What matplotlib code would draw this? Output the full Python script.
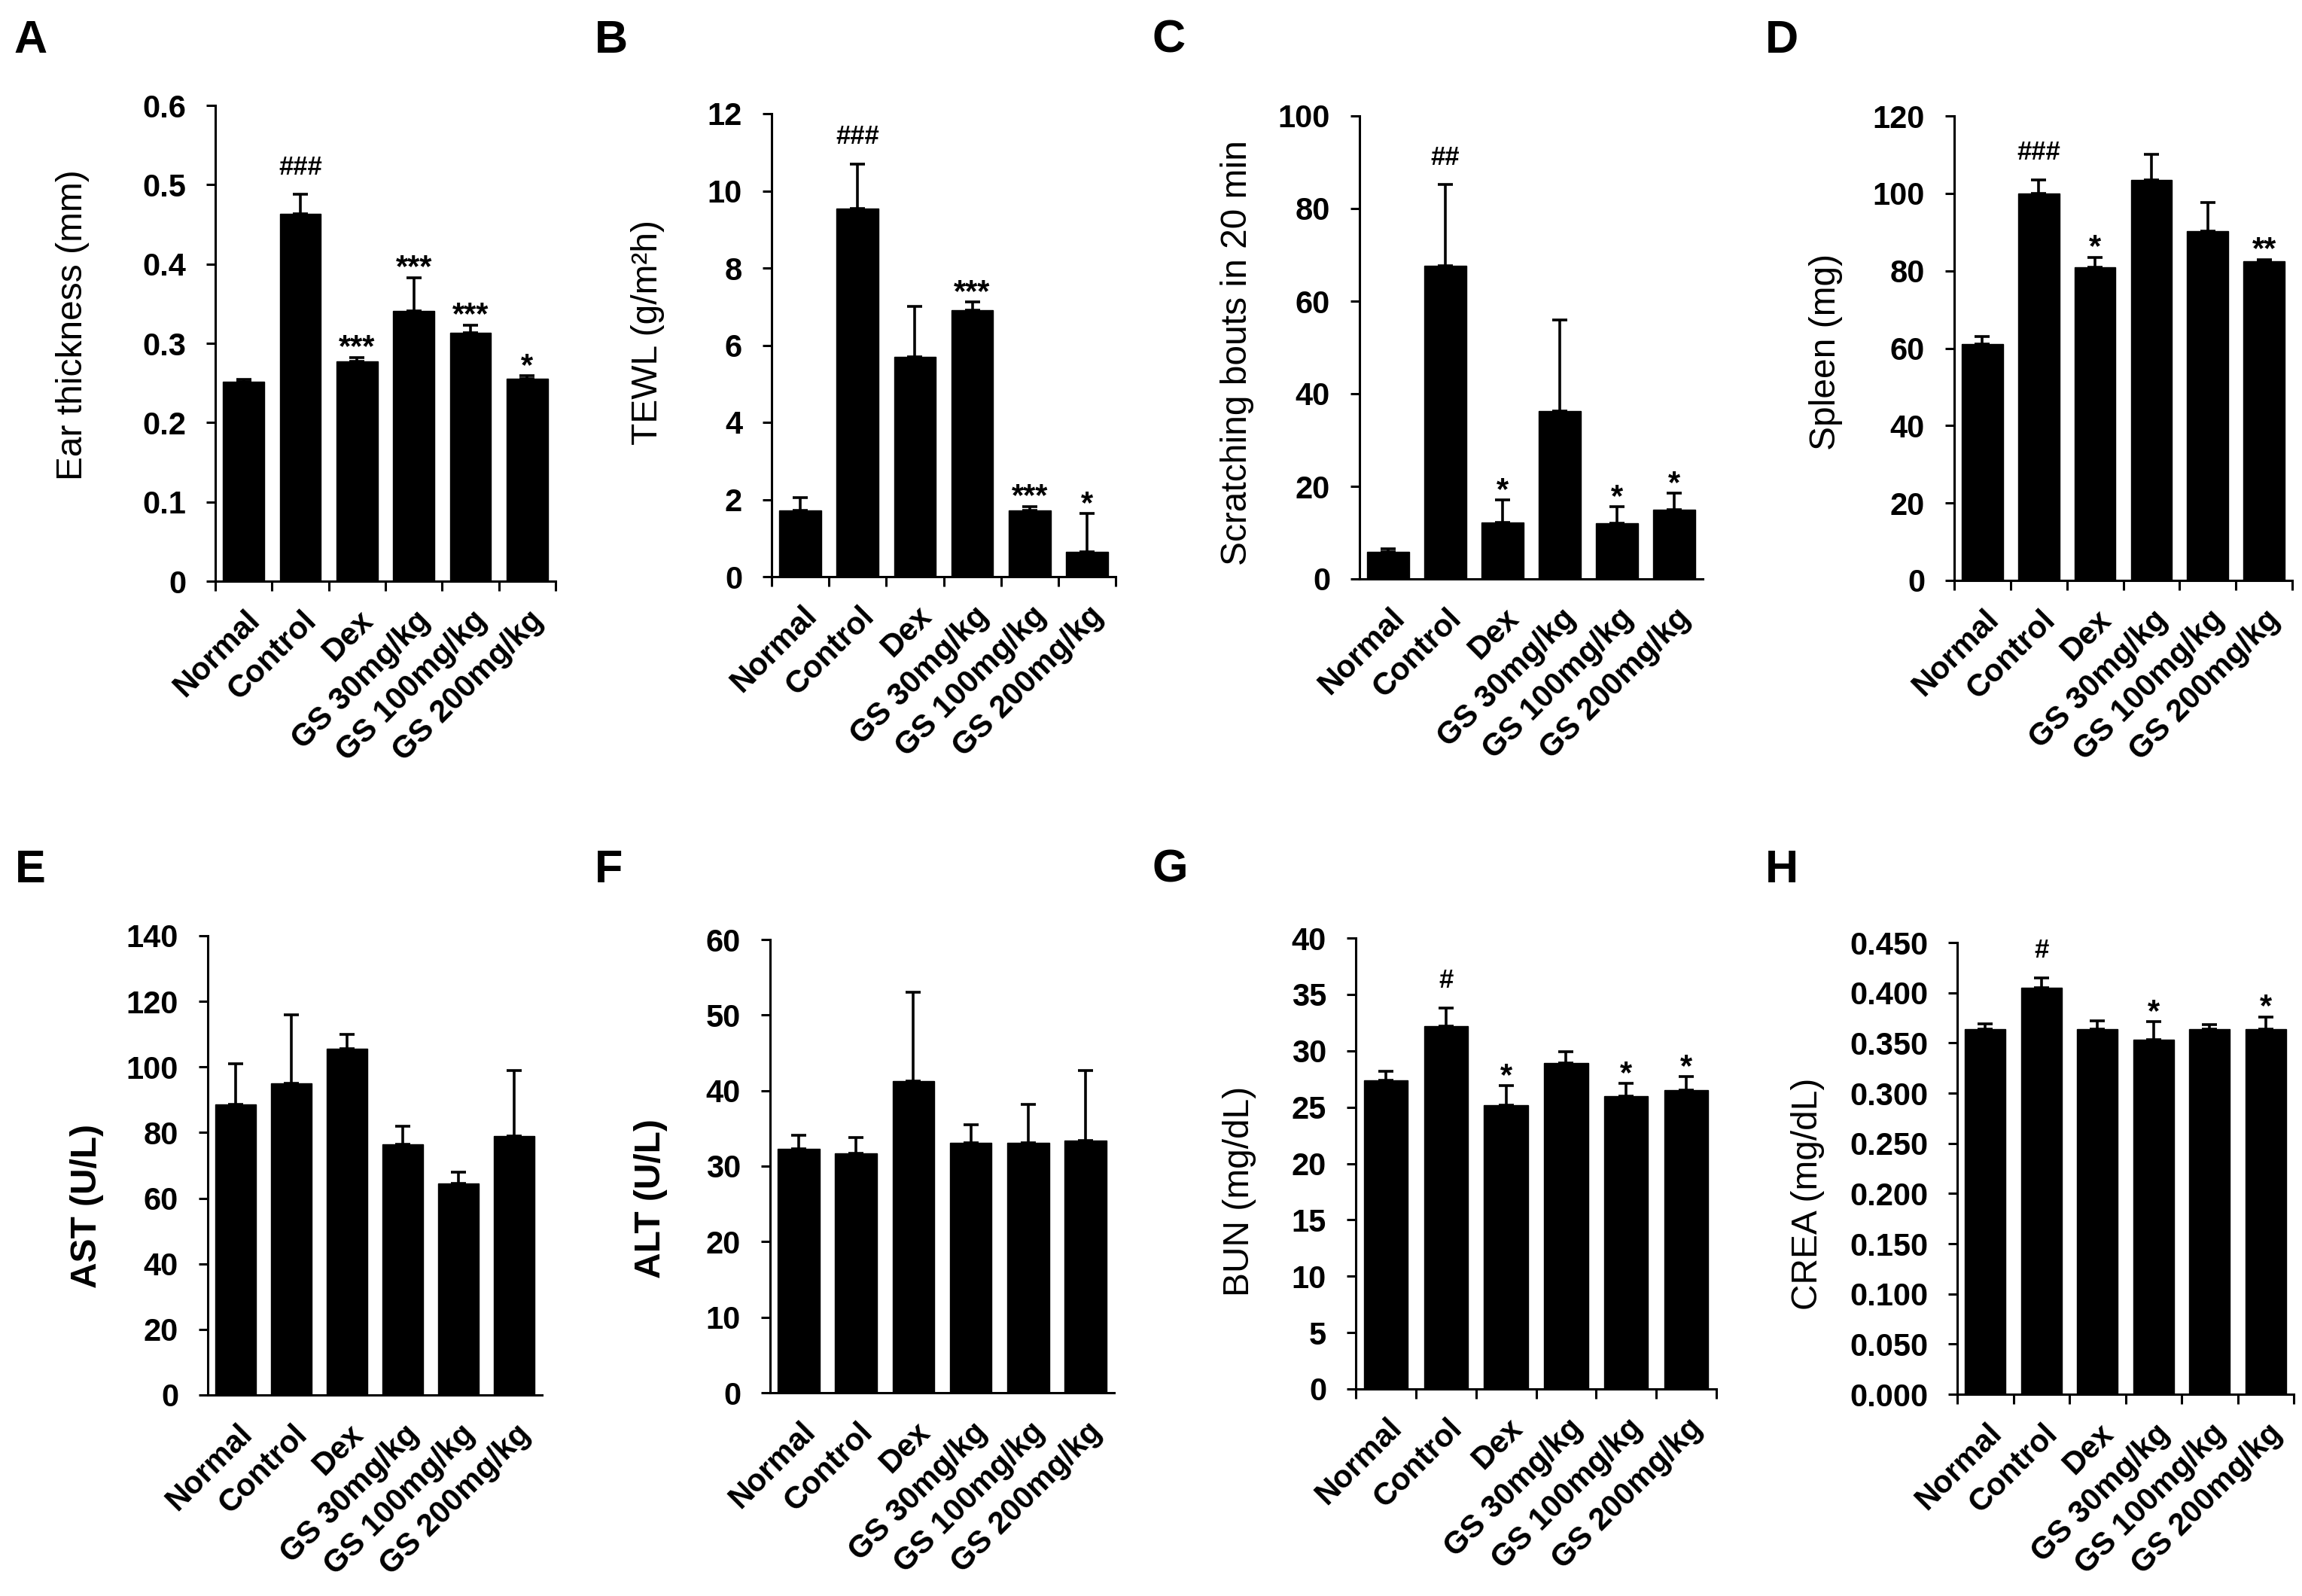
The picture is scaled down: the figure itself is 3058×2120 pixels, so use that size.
import matplotlib
matplotlib.use('Agg')
import matplotlib.pyplot as plt
import matplotlib.transforms as mtransforms
from matplotlib.ticker import FixedLocator, FuncFormatter

plt.rcParams['font.family'] = ['Liberation Sans', 'DejaVu Sans']

groups = ['Normal', 'Control', 'Dex', 'GS 30mg/kg', 'GS 100mg/kg', 'GS 200mg/kg']

# A - ear thickness
ear_mean = [0.252, 0.463, 0.277, 0.341, 0.313, 0.255]
ear_err = [0.002, 0.025, 0.005, 0.042, 0.010, 0.004]
ear_sig = ['', '###', '***', '***', '***', '*']

# B - TEWL
tewl_mean = [1.72, 9.55, 5.70, 6.90, 1.72, 0.65]
tewl_err = [0.33, 1.15, 1.30, 0.22, 0.10, 0.98]
tewl_sig = ['', '###', '', '***', '***', '*']

# C - scratching
scratch_mean = [5.8, 67.7, 12.2, 36.3, 12.0, 15.0]
scratch_err = [0.7, 17.5, 4.8, 19.6, 3.6, 3.5]
scratch_sig = ['', '##', '*', '', '*', '*']

# D - spleen
spleen_mean = [61.0, 100.0, 81.0, 103.5, 90.2, 82.5]
spleen_err = [2.0, 3.5, 2.5, 6.5, 7.5, 0.4]
spleen_sig = ['', '###', '*', '', '', '**']

# E - AST
ast_mean = [88.5, 95.0, 105.5, 76.5, 64.5, 79.0]
ast_err = [12.5, 21.0, 4.5, 5.5, 3.5, 20.0]

# F - ALT
alt_mean = [32.3, 31.7, 41.3, 33.1, 33.1, 33.4]
alt_err = [1.8, 2.1, 11.7, 2.4, 5.1, 9.3]

# G - BUN
bun_mean = [27.4, 32.2, 25.2, 28.9, 26.0, 26.5]
bun_err = [0.8, 1.6, 1.7, 1.0, 1.1, 1.2]
bun_sig = ['', '#', '*', '', '*', '*']

# H - CREA
crea_mean = [0.364, 0.405, 0.364, 0.353, 0.364, 0.364]
crea_err = [0.005, 0.010, 0.008, 0.018, 0.004, 0.012]
crea_sig = ['', '#', '', '*', '', '*']

no_sig = [''] * 6

# letter, ylabel, means, errs, sig, ymax, ystep, decimals, xticks shown, bold ylabel
panels = [
    ('A', 'Ear thickness (mm)', ear_mean, ear_err, ear_sig, 0.6, 0.1, 1, True, False),
    ('B', 'TEWL (g/m²h)', tewl_mean, tewl_err, tewl_sig, 12, 2, 0, True, False),
    ('C', 'Scratching bouts in 20 min', scratch_mean, scratch_err, scratch_sig, 100, 20, 0, False, False),
    ('D', 'Spleen (mg)', spleen_mean, spleen_err, spleen_sig, 120, 20, 0, True, False),
    ('E', 'AST (U/L)', ast_mean, ast_err, no_sig, 140, 20, 0, False, True),
    ('F', 'ALT (U/L)', alt_mean, alt_err, no_sig, 60, 10, 0, False, True),
    ('G', 'BUN (mg/dL)', bun_mean, bun_err, bun_sig, 40, 5, 0, True, False),
    ('H', 'CREA (mg/dL)', crea_mean, crea_err, crea_sig, 0.45, 0.05, 3, True, False),
]

# layout in pixels: axes box (left, top, right, bottom), ylabel x centre, ylabel y fraction, letter pos
W, H = 3058, 2120
boxes = [
    (286, 140, 738, 772), (1025, 151, 1482, 766), (1806, 154, 2262, 769), (2596, 154, 3045, 771),
    (276, 1243, 720, 1853), (1023, 1248, 1480, 1850), (1801, 1246, 2280, 1845), (2600, 1252, 3047, 1852),
]
label_x = [97, 861, 1643, 2426, 116, 865, 1647, 2402]
label_y = [0.538, 0.527, 0.489, 0.492, 0.411, 0.428, 0.438, 0.443]
letter_pos = [(18, 26), (790, 26), (1530, 26), (2345, 26), (20, 1128), (790, 1128), (1530, 1128), (2345, 1128)]

fig = plt.figure(figsize=(W / 100, H / 100), dpi=100)

lw = 2.2
elw = 2.6
xs = [i + 0.5 for i in range(len(groups))]

for p, box, lx, ly, lp in zip(panels, boxes, label_x, label_y, letter_pos):
    letter, ylabel, means, errs, sig, ymax, ystep, dec, xt, boldlab = p
    l, t, r, b = box
    ax = fig.add_axes([l / W, 1 - b / H, (r - l) / W, (b - t) / H])

    ax.bar(xs, means, width=0.73, color='black', edgecolor='black', linewidth=1, zorder=2)
    ax.errorbar(xs, means, yerr=[[0] * 6, errs], fmt='none', ecolor='black',
                elinewidth=elw, capsize=7, capthick=elw, zorder=1)

    for x, m, e, s in zip(xs, means, errs, sig):
        if not s:
            continue
        if s.startswith('#'):
            ax.annotate(s, xy=(x, m + e), xytext=(0, 19), textcoords='offset points',
                        ha='center', va='baseline', fontsize=25, fontweight='bold')
        else:
            ax.annotate(s, xy=(x, m + e), xytext=(0, 1), textcoords='offset points',
                        ha='center', va='baseline', fontsize=30, fontweight='bold')

    ax.set_xlim(0, 6)
    ax.set_ylim(0, ymax)
    n = int(round(ymax / ystep))
    yt = [k * ystep for k in range(n + 1)]
    ax.yaxis.set_major_locator(FixedLocator(yt))
    if dec == 1:
        ax.yaxis.set_major_formatter(FuncFormatter(lambda v, pos: '0' if abs(v) < 1e-9 else '%.1f' % v))
    elif dec == 3:
        ax.yaxis.set_major_formatter(FuncFormatter(lambda v, pos: '%.3f' % v))
    else:
        ax.yaxis.set_major_formatter(FuncFormatter(lambda v, pos: '%d' % round(v)))

    ax.set_xticks(xs)
    ax.set_xticklabels(groups, rotation=45, ha='right', rotation_mode='anchor',
                       fontsize=30, fontweight='bold')
    ax.tick_params(axis='x', which='major', length=0, pad=23)
    if xt:
        ax.set_xticks(range(7), minor=True)
        ax.tick_params(axis='x', which='minor', length=9, width=lw, direction='out')
    off = mtransforms.ScaledTranslation(1 / 72, 0, fig.dpi_scale_trans)
    for lab in ax.get_xticklabels():
        lab.set_transform(lab.get_transform() + off)

    ax.tick_params(axis='y', length=9, width=lw, direction='out', pad=19, labelsize=30)
    for lab in ax.get_yticklabels():
        lab.set_fontweight('bold')

    for sp in ['top', 'right']:
        ax.spines[sp].set_visible(False)
    for sp in ['left', 'bottom']:
        ax.spines[sp].set_linewidth(lw)

    ax.set_ylabel(ylabel, fontsize=34.5, fontweight='bold' if boldlab else 'normal', va='center')
    ax.yaxis.set_label_coords((lx - l) / (r - l), ly)

    fig.text(lp[0] / W, 1 - lp[1] / H, letter, fontsize=44, fontweight='bold', ha='left', va='top')

fig.savefig('out.png', dpi=100, facecolor='white')
